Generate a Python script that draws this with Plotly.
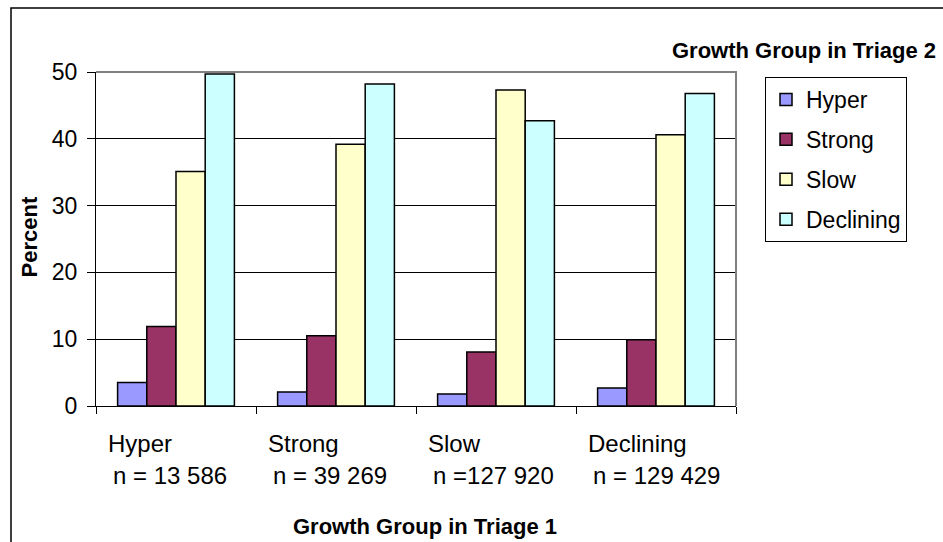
import plotly.graph_objects as go

# Growth group in triage 1 (x categories) and their sample sizes
groups = ["Hyper", "Strong", "Slow", "Declining"]
group_counts = ["n = 13 586", "n = 39 269", "n =127 920", "n = 129 429"]

# Share (%) of each triage-1 group that lands in each triage-2 group
series_names = ["Hyper", "Strong", "Slow", "Declining"]
hyper = [3.5, 2.1, 1.8, 2.7]
strong = [11.9, 10.5, 8.1, 9.9]
slow = [35.1, 39.2, 47.3, 40.6]
declining = [49.7, 48.2, 42.7, 46.8]
series_values = [hyper, strong, slow, declining]
series_colors = ["#9999FF", "#993366", "#FFFFCC", "#CCFFFF"]

y_ticks = [0, 10, 20, 30, 40, 50]

FONT = "Liberation Sans, Arial, sans-serif"

fig = go.Figure()
for name, vals, col in zip(series_names, series_values, series_colors):
    fig.add_trace(go.Bar(
        x=groups, y=vals, name=name, legendgroup=name,
        marker=dict(color=col, line=dict(color="black", width=1.5)),
    ))

W, H = 943, 542
L, R, T, B = 96, 207, 72, 136
pw, ph = W - L - R, H - T - B


def px_x(px):
    return (px - L) / pw


def px_y(py):
    return (H - B - py) / ph


annotations = []
# two-line category labels under each group
for g, n in zip(groups, group_counts):
    annotations.append(dict(x=g, xref="x", y=px_y(443), yref="paper", text=g,
                            xanchor="left", yanchor="middle", xshift=-70,
                            showarrow=False, font=dict(size=24, color="black", family=FONT)))
    annotations.append(dict(x=g, xref="x", y=px_y(475), yref="paper", text=n,
                            xanchor="left", yanchor="middle", xshift=-65,
                            showarrow=False, font=dict(size=24, color="black", family=FONT)))

annotations += [
    dict(x=px_x(425), y=px_y(526), xref="paper", yref="paper",
         text="<b>Growth Group in Triage 1</b>", showarrow=False,
         xanchor="center", yanchor="middle",
         font=dict(size=22, color="black", family=FONT)),
    dict(x=px_x(804), y=px_y(50), xref="paper", yref="paper",
         text="<b>Growth Group in Triage 2</b>", showarrow=False,
         xanchor="center", yanchor="middle",
         font=dict(size=22, color="black", family=FONT)),
    dict(x=px_x(29), y=px_y(237.5), xref="paper", yref="paper",
         text="<b>Percent</b>", showarrow=False, textangle=-90,
         xanchor="center", yanchor="middle",
         font=dict(size=22, color="black", family=FONT)),
]

shapes = [
    # grey plot-area frame on top and right
    dict(type="path", xref="paper", yref="paper",
         path="M 0 1 L 1 1 L 1 0", line=dict(color="#808080", width=2), layer="above"),
    # outer chart frame
    dict(type="rect", xref="paper", yref="paper",
         x0=px_x(11), x1=px_x(960), y0=px_y(560), y1=px_y(8),
         line=dict(color="black", width=1.5), fillcolor="rgba(0,0,0,0)"),
]

fig.update_layout(
    width=W, height=H,
    margin=dict(l=L, r=R, t=T, b=B),
    paper_bgcolor="white", plot_bgcolor="white",
    barmode="group", bargap=0.27, bargroupgap=0,
    font=dict(family=FONT, size=23, color="black"),
    showlegend=True,
    legend=dict(
        x=px_x(765), xanchor="left", y=px_y(77), yanchor="top",
        bordercolor="black", borderwidth=1, bgcolor="white",
        font=dict(size=23, color="black", family=FONT),
        traceorder="grouped", tracegroupgap=7,
    ),
    xaxis=dict(
        type="category", range=[-0.5, 3.5],
        showline=True, linecolor="black", linewidth=1,
        ticks="outside", tickson="boundaries", ticklen=7, tickcolor="black",
        showticklabels=False, showgrid=False, zeroline=False,
    ),
    yaxis=dict(
        range=[0, 50], tickvals=y_ticks,
        showline=True, linecolor="black", linewidth=1,
        ticks="outside", ticklen=8, tickcolor="black", ticklabelstandoff=5,
        showgrid=True, gridcolor="black", gridwidth=1, zeroline=False,
        tickfont=dict(size=23, color="black", family=FONT),
    ),
    annotations=annotations,
    shapes=shapes,
)

fig.write_html("out.html")
